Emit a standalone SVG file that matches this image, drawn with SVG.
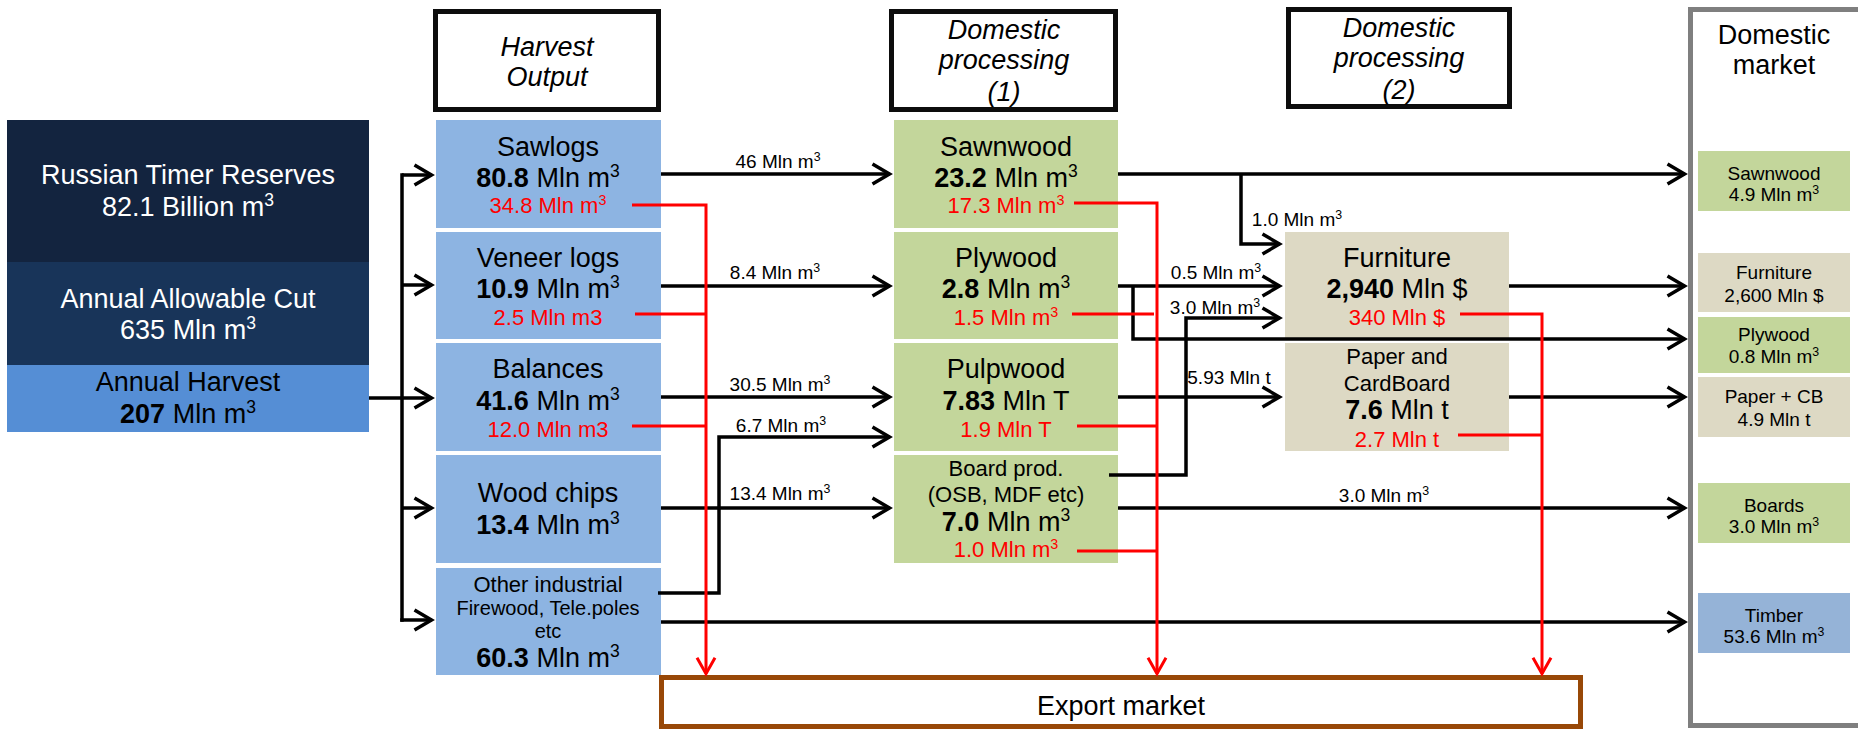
<svg xmlns="http://www.w3.org/2000/svg" width="1858" height="729" viewBox="0 0 1858 729">
<style>
text{font-family:"Liberation Sans",Arial,sans-serif;text-anchor:middle;fill:#000}
.big{font-size:27px}
.hdr{font-size:27px;font-style:italic}
.red{font-size:22px;fill:#ff0000}
.mid{font-size:22px}
.sm{font-size:20px}
.lbl{font-size:19px}
.mk{font-size:19px}
.w{fill:#fff}
.b{font-weight:bold}
.sup{font-size:65%;baseline-shift:super}
.hb{fill:#fff;stroke:#0d0d0d;stroke-width:5}
.blue{fill:#8DB4E2}
.green{fill:#C3D69B}
.beige{fill:#DDD9C4}
.ln{fill:none;stroke:#000;stroke-width:3.5;marker-end:none}
.ar{marker-end:url(#ah)}
.rl{fill:none;stroke:#ff0000;stroke-width:3}
.rar{marker-end:url(#rh)}
</style>
<defs>
<marker id="ah" markerUnits="userSpaceOnUse" viewBox="-25 -15 30 30" markerWidth="30" markerHeight="30" refX="0" refY="0" orient="auto" overflow="visible">
<path d="M-17,-10 L0,0 L-17,10" fill="none" stroke="#000" stroke-width="3.5"/>
</marker>
<marker id="rh" markerUnits="userSpaceOnUse" viewBox="-25 -15 30 30" markerWidth="30" markerHeight="30" refX="0" refY="0" orient="auto" overflow="visible">
<path d="M-16,-9 L0,0 L-16,9" fill="none" stroke="#ff0000" stroke-width="3"/>
</marker>
</defs>
<rect width="1858" height="729" fill="#fff"/>

<g id="domestic-market">
<rect x="1690.5" y="9.5" width="1165" height="716" fill="#fff" stroke="#7f7f7f" stroke-width="5"/>
<text class="big" x="1774" y="44">Domestic</text>
<text class="big" x="1774" y="74">market</text>
</g>

<g id="left-stack">
<rect x="7" y="120" width="362" height="142" fill="#13243F"/>
<rect x="7" y="262" width="362" height="103" fill="#183459"/>
<rect x="7" y="365" width="362" height="67" fill="#558ED5"/>
<text class="big w" x="188" y="184">Russian Timer Reserves</text>
<text class="big w" x="188" y="216">82.1 Billion m<tspan class="sup">3</tspan></text>
<text class="big w" x="188" y="308">Annual Allowable Cut</text>
<text class="big w" x="188" y="339">635 Mln m<tspan class="sup">3</tspan></text>
<text class="big" x="188" y="391">Annual Harvest</text>
<text class="big" x="188" y="423"><tspan class="b">207</tspan> Mln m<tspan class="sup">3</tspan></text>
</g>

<g id="hdr-harvest">
<rect class="hb" x="435.5" y="11.5" width="223" height="98"/>
<text class="hdr" x="547" y="56">Harvest</text>
<text class="hdr" x="547" y="86">Output</text>
</g>
<g id="hdr-proc1">
<rect class="hb" x="891.5" y="11.5" width="224" height="98"/>
<text class="hdr" x="1004" y="39">Domestic</text>
<text class="hdr" x="1004" y="69">processing</text>
<text class="hdr" x="1004" y="101">(1)</text>
</g>
<g id="hdr-proc2">
<rect class="hb" x="1288.5" y="9.5" width="221" height="97"/>
<text class="hdr" x="1399" y="37">Domestic</text>
<text class="hdr" x="1399" y="67">processing</text>
<text class="hdr" x="1399" y="99">(2)</text>
</g>

<g id="sawlogs">
<rect class="blue" x="436" y="120" width="225" height="108"/>
<text class="big" x="548" y="156">Sawlogs</text>
<text class="big" x="548" y="187"><tspan class="b">80.8</tspan> Mln m<tspan class="sup">3</tspan></text>
<text class="red" x="548" y="213">34.8 Mln m<tspan class="sup">3</tspan></text>
</g>
<g id="veneer">
<rect class="blue" x="436" y="232" width="225" height="107"/>
<text class="big" x="548" y="267">Veneer logs</text>
<text class="big" x="548" y="298"><tspan class="b">10.9</tspan> Mln m<tspan class="sup">3</tspan></text>
<text class="red" x="548" y="325">2.5 Mln m3</text>
</g>
<g id="balances">
<rect class="blue" x="436" y="343" width="225" height="108"/>
<text class="big" x="548" y="378">Balances</text>
<text class="big" x="548" y="410"><tspan class="b">41.6</tspan> Mln m<tspan class="sup">3</tspan></text>
<text class="red" x="548" y="437">12.0 Mln m3</text>
</g>
<g id="woodchips">
<rect class="blue" x="436" y="455" width="225" height="108"/>
<text class="big" x="548" y="502">Wood chips</text>
<text class="big" x="548" y="534"><tspan class="b">13.4</tspan> Mln m<tspan class="sup">3</tspan></text>
</g>
<g id="other">
<rect class="blue" x="436" y="568" width="225" height="107"/>
<text class="mid" x="548" y="592">Other industrial</text>
<text class="sm" x="548" y="615">Firewood, Tele.poles</text>
<text class="sm" x="548" y="638">etc</text>
<text class="big" x="548" y="667"><tspan class="b">60.3</tspan> Mln m<tspan class="sup">3</tspan></text>
</g>

<g id="sawnwood">
<rect class="green" x="894" y="120" width="224" height="108"/>
<text class="big" x="1006" y="156">Sawnwood</text>
<text class="big" x="1006" y="187"><tspan class="b">23.2</tspan> Mln m<tspan class="sup">3</tspan></text>
<text class="red" x="1006" y="213">17.3 Mln m<tspan class="sup">3</tspan></text>
</g>
<g id="plywood">
<rect class="green" x="894" y="232" width="224" height="107"/>
<text class="big" x="1006" y="267">Plywood</text>
<text class="big" x="1006" y="298"><tspan class="b">2.8</tspan> Mln m<tspan class="sup">3</tspan></text>
<text class="red" x="1006" y="325">1.5 Mln m<tspan class="sup">3</tspan></text>
</g>
<g id="pulpwood">
<rect class="green" x="894" y="343" width="224" height="108"/>
<text class="big" x="1006" y="378">Pulpwood</text>
<text class="big" x="1006" y="410"><tspan class="b">7.83</tspan> Mln T</text>
<text class="red" x="1006" y="437">1.9 Mln T</text>
</g>
<g id="board">
<rect class="green" x="894" y="455" width="224" height="108"/>
<text class="mid" x="1006" y="476">Board prod.</text>
<text class="mid" x="1006" y="502">(OSB, MDF etc)</text>
<text class="big" x="1006" y="531"><tspan class="b">7.0</tspan> Mln m<tspan class="sup">3</tspan></text>
<text class="red" x="1006" y="557">1.0 Mln m<tspan class="sup">3</tspan></text>
</g>

<g id="furniture">
<rect class="beige" x="1285" y="232" width="224" height="107"/>
<text class="big" x="1397" y="267">Furniture</text>
<text class="big" x="1397" y="298"><tspan class="b">2,940</tspan> Mln $</text>
<text class="red" x="1397" y="325">340 Mln $</text>
</g>
<g id="paper">
<rect class="beige" x="1285" y="343" width="224" height="108"/>
<text class="mid" x="1397" y="364">Paper and</text>
<text class="mid" x="1397" y="391">CardBoard</text>
<text class="big" x="1397" y="419"><tspan class="b">7.6</tspan> Mln t</text>
<text class="red" x="1397" y="447">2.7 Mln t</text>
</g>

<g id="mk-sawnwood">
<rect class="green" x="1698" y="151" width="152" height="60"/>
<text class="mk" x="1774" y="180">Sawnwood</text>
<text class="mk" x="1774" y="201">4.9 Mln m<tspan class="sup">3</tspan></text>
</g>
<g id="mk-furniture">
<rect class="beige" x="1698" y="253" width="152" height="59"/>
<text class="mk" x="1774" y="279">Furniture</text>
<text class="mk" x="1774" y="302">2,600 Mln $</text>
</g>
<g id="mk-plywood">
<rect class="green" x="1698" y="317" width="152" height="56"/>
<text class="mk" x="1774" y="341">Plywood</text>
<text class="mk" x="1774" y="363">0.8 Mln m<tspan class="sup">3</tspan></text>
</g>
<g id="mk-paper">
<rect class="beige" x="1698" y="377" width="152" height="60"/>
<text class="mk" x="1774" y="403">Paper + CB</text>
<text class="mk" x="1774" y="426">4.9 Mln t</text>
</g>
<g id="mk-boards">
<rect class="green" x="1698" y="483" width="152" height="60"/>
<text class="mk" x="1774" y="512">Boards</text>
<text class="mk" x="1774" y="533">3.0 Mln m<tspan class="sup">3</tspan></text>
</g>
<g id="mk-timber">
<rect x="1698" y="593" width="152" height="60" fill="#95B3D7"/>
<text class="mk" x="1774" y="622">Timber</text>
<text class="mk" x="1774" y="643">53.6 Mln m<tspan class="sup">3</tspan></text>
</g>

<g id="export">
<rect x="661.5" y="677.5" width="919" height="49" fill="#fff" stroke="#984807" stroke-width="5"/>
<text class="big" x="1121" y="715">Export market</text>
</g>

<g id="connectors">
<path class="ln" d="M369,398 H402 M402,173.25 V621.75"/>
<path class="ln ar" d="M402,175 H431.5"/>
<path class="ln ar" d="M402,285 H431.5"/>
<path class="ln ar" d="M402,398 H431.5"/>
<path class="ln ar" d="M402,508 H431.5"/>
<path class="ln ar" d="M400.25,620 H431.5"/>
<path class="ln ar" d="M661,174 H889.5"/>
<path class="ln ar" d="M661,286 H889.5"/>
<path class="ln ar" d="M661,397 H889.5"/>
<path class="ln ar" d="M658,593 H719 V437 H889.5"/>
<path class="ln ar" d="M661,508 H889.5"/>
<path class="ln ar" d="M661,622 H1684.5"/>
<path class="ln ar" d="M1118,174 H1684.5"/>
<path class="ln ar" d="M1241,174 V244 H1279.5"/>
<path class="ln ar" d="M1118,286 H1279.5"/>
<path class="ln ar" d="M1133,286 V339 H1684.5"/>
<path class="ln ar" d="M1109,475 H1186 V318 H1279.5"/>
<path class="ln ar" d="M1118,397 H1279.5"/>
<path class="ln ar" d="M1509,286 H1684.5"/>
<path class="ln ar" d="M1509,397 H1684.5"/>
<path class="ln ar" d="M1118,508 H1684.5"/>
<text class="lbl" x="778" y="168">46 Mln m<tspan class="sup">3</tspan></text>
<text class="lbl" x="775" y="279">8.4 Mln m<tspan class="sup">3</tspan></text>
<text class="lbl" x="780" y="391">30.5 Mln m<tspan class="sup">3</tspan></text>
<text class="lbl" x="781" y="432">6.7 Mln m<tspan class="sup">3</tspan></text>
<text class="lbl" x="780" y="500">13.4 Mln m<tspan class="sup">3</tspan></text>
<text class="lbl" x="1297" y="226">1.0 Mln m<tspan class="sup">3</tspan></text>
<text class="lbl" x="1216" y="279">0.5 Mln m<tspan class="sup">3</tspan></text>
<text class="lbl" x="1215" y="314">3.0 Mln m<tspan class="sup">3</tspan></text>
<text class="lbl" x="1229" y="384">5.93 Mln t</text>
<text class="lbl" x="1384" y="502">3.0 Mln m<tspan class="sup">3</tspan></text>
<path class="rl rar" d="M632,205 H706 V673.8"/>
<path class="rl" d="M635,314 H706 M632,426 H706"/>
<path class="rl rar" d="M1074,203 H1157 V673.8"/>
<path class="rl" d="M1072,314 H1154 M1077,426 H1157 M1077,551 H1157"/>
<path class="rl rar" d="M1460,314 H1542 V673.8"/>
<path class="rl" d="M1458,435 H1542"/>
</g>
</svg>
